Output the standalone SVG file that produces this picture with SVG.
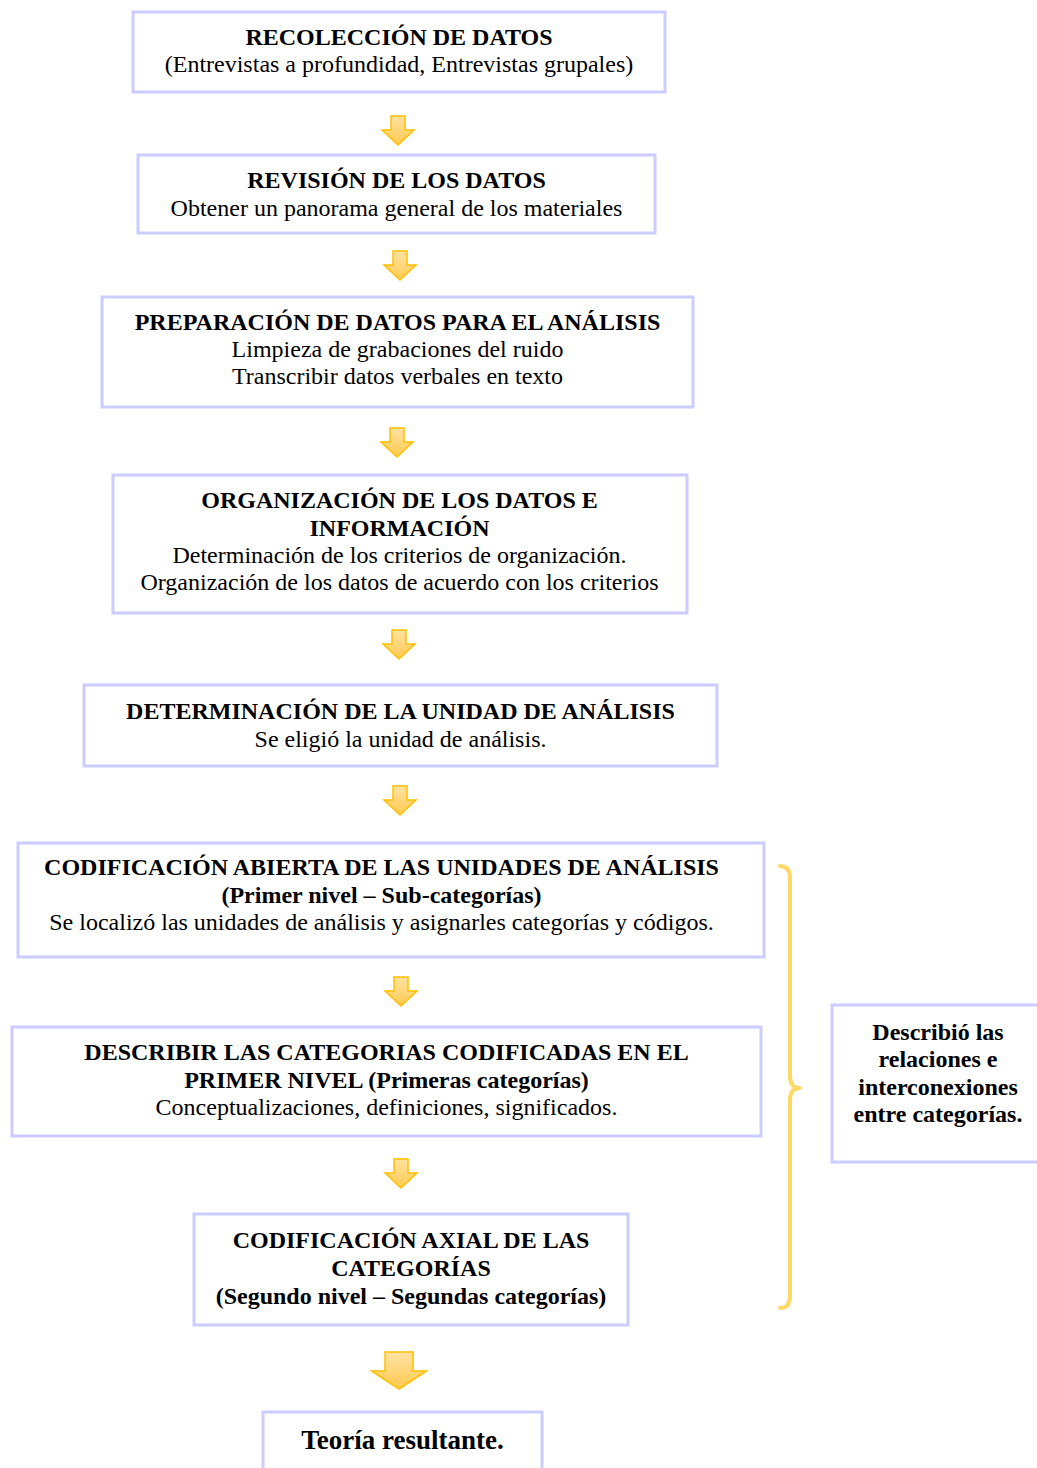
<svg xmlns="http://www.w3.org/2000/svg" width="1037" height="1468" viewBox="0 0 1037 1468">
<defs>
<style>
.box{fill:#ffffff;stroke:#ccccff;stroke-width:3}
.t{font-family:"Liberation Serif","Times New Roman",serif;font-size:24px;fill:#000;text-anchor:middle}
.b{font-weight:bold}
.big{font-size:27px}
.arr{fill:url(#ag);stroke:#ffc000;stroke-width:1.5;stroke-linejoin:miter}
.brace{fill:none;stroke:#ffd966;stroke-width:4;stroke-linecap:round;stroke-linejoin:round}
</style>
<linearGradient id="ag" x1="0" y1="0" x2="0" y2="1">
<stop offset="0" stop-color="#ffe3a3"/>
<stop offset="1" stop-color="#ffc94f"/>
</linearGradient>
<path id="sa" d="M-7,0 H7 V14 H16 L0,29 L-16,14 H-7 Z"/>
<path id="la" d="M-14,0 H14 V19 H27.5 L0,37 L-27.5,19 H-14 Z"/>
</defs>
<rect width="1037" height="1468" fill="#ffffff"/>

<g id="connectors">
<use href="#sa" class="arr" x="398" y="116"/>
<use href="#sa" class="arr" x="400" y="251"/>
<use href="#sa" class="arr" x="397" y="428"/>
<use href="#sa" class="arr" x="399" y="630"/>
<use href="#sa" class="arr" x="400" y="786"/>
<use href="#sa" class="arr" x="401" y="977"/>
<use href="#sa" class="arr" x="401" y="1159"/>
<use href="#la" class="arr" x="399" y="1352"/>
<path class="brace" d="M780,866 Q790,866 790,878 V1076 Q790,1088 800,1088 Q790,1088 790,1100 V1296 Q790,1308 780,1308"/>
</g>

<g id="n1">
<rect class="box" x="133" y="12" width="532" height="80"/>
<text class="t b" x="399" y="45">RECOLECCIÓN DE DATOS</text>
<text class="t" x="399" y="72">(Entrevistas a profundidad, Entrevistas grupales)</text>
</g>
<g id="n2">
<rect class="box" x="138" y="155" width="517" height="78"/>
<text class="t b" x="396.5" y="188">REVISIÓN DE LOS DATOS</text>
<text class="t" x="396.5" y="216">Obtener un panorama general de los materiales</text>
</g>
<g id="n3">
<rect class="box" x="102" y="297" width="591" height="110"/>
<text class="t b" x="397.5" y="330">PREPARACIÓN DE DATOS PARA EL ANÁLISIS</text>
<text class="t" x="397.5" y="357">Limpieza de grabaciones del ruido</text>
<text class="t" x="397.5" y="384">Transcribir datos verbales en texto</text>
</g>
<g id="n4">
<rect class="box" x="113" y="475" width="574" height="138"/>
<text class="t b" x="399.5" y="508">ORGANIZACIÓN DE LOS DATOS E</text>
<text class="t b" x="399.5" y="536">INFORMACIÓN</text>
<text class="t" x="399.5" y="563">Determinación de los criterios de organización.</text>
<text class="t" x="399.5" y="590">Organización de los datos de acuerdo con los criterios</text>
</g>
<g id="n5">
<rect class="box" x="84" y="685" width="633" height="81"/>
<text class="t b" x="400.5" y="719">DETERMINACIÓN DE LA UNIDAD DE ANÁLISIS</text>
<text class="t" x="400.5" y="747">Se eligió la unidad de análisis.</text>
</g>
<g id="n6">
<rect class="box" x="18" y="843" width="746" height="114"/>
<text class="t b" x="381.5" y="875">CODIFICACIÓN ABIERTA DE LAS UNIDADES DE ANÁLISIS</text>
<text class="t b" x="381.5" y="903">(Primer nivel – Sub-categorías)</text>
<text class="t" x="381.5" y="930">Se localizó las unidades de análisis y asignarles categorías y códigos.</text>
</g>
<g id="n7">
<rect class="box" x="12" y="1027" width="749" height="109"/>
<text class="t b" x="386.5" y="1060">DESCRIBIR LAS CATEGORIAS CODIFICADAS EN EL</text>
<text class="t b" x="386.5" y="1088">PRIMER NIVEL (Primeras categorías)</text>
<text class="t" x="386.5" y="1115">Conceptualizaciones, definiciones, significados.</text>
</g>
<g id="n8">
<rect class="box" x="194" y="1214" width="434" height="111"/>
<text class="t b" x="411" y="1248">CODIFICACIÓN AXIAL DE LAS</text>
<text class="t b" x="411" y="1276">CATEGORÍAS</text>
<text class="t b" x="411" y="1304">(Segundo nivel – Segundas categorías)</text>
</g>
<g id="n9">
<rect class="box" x="263" y="1412" width="279" height="70"/>
<text class="t b big" x="402.5" y="1449">Teoría resultante.</text>
</g>
<g id="n10">
<rect class="box" x="832" y="1005" width="215" height="157"/>
<text class="t b" x="938" y="1040">Describió las</text>
<text class="t b" x="938" y="1067">relaciones e</text>
<text class="t b" x="938" y="1095">interconexiones</text>
<text class="t b" x="938" y="1122">entre categorías.</text>
</g>
</svg>
